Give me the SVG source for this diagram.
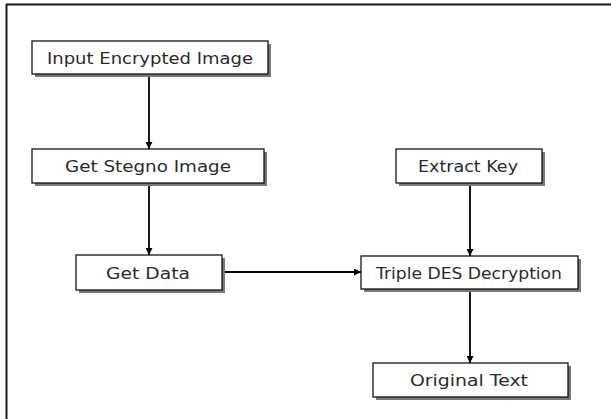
<svg xmlns="http://www.w3.org/2000/svg" width="611" height="419" viewBox="0 0 611 419">
  <style>
    .box { fill: #ffffff; stroke: #000000; stroke-width: 1.2; }
    .shadow { fill: #7a7a7a; }
    .lbl { font-family: "DejaVu Sans", "Liberation Sans", sans-serif; font-size: 16.5px; fill: #2a2a2a; text-anchor: middle; }
    .wire { stroke: #000000; stroke-width: 1.8; fill: none; marker-end: url(#arrow); }
  </style>
  <defs>
    <marker id="arrow" viewBox="0 0 10 10" refX="10" refY="5" markerWidth="7" markerHeight="7" markerUnits="userSpaceOnUse" orient="auto">
      <path d="M0,0 L10,5 L0,10 z" fill="#000000"/>
    </marker>
  </defs>
  <rect width="611" height="419" fill="#ffffff"/>

  <!-- outer frame: only top and left edges are visible -->
  <g id="frame">
    <line x1="6" y1="4.5" x2="611" y2="4.5" stroke="#1a1a1a" stroke-width="2"/>
    <line x1="6.5" y1="4" x2="6.5" y2="419" stroke="#1a1a1a" stroke-width="2"/>
  </g>

  <g id="connectors">
    <line class="wire" x1="149" y1="74" x2="149" y2="149"/>
    <line class="wire" x1="149" y1="183" x2="149" y2="255"/>
    <line class="wire" x1="222" y1="272" x2="361" y2="272"/>
    <line class="wire" x1="470" y1="183" x2="470" y2="256"/>
    <line class="wire" x1="470" y1="289" x2="470" y2="363"/>
  </g>

  <g id="input-encrypted-image">
    <rect class="shadow" x="35" y="44" width="236" height="33"/>
    <rect class="box" x="32" y="41" width="236" height="33"/>
    <text class="lbl" x="150" y="63.5" textLength="206" lengthAdjust="spacingAndGlyphs">Input Encrypted Image</text>
  </g>

  <g id="get-stegno-image">
    <rect class="shadow" x="35" y="152" width="232" height="34"/>
    <rect class="box" x="32" y="149" width="232" height="34"/>
    <text class="lbl" x="148" y="171.5" textLength="166" lengthAdjust="spacingAndGlyphs">Get Stegno Image</text>
  </g>

  <g id="get-data">
    <rect class="shadow" x="79" y="258" width="146" height="35"/>
    <rect class="box" x="76" y="255" width="146" height="35"/>
    <text class="lbl" x="148" y="278.5" textLength="84" lengthAdjust="spacingAndGlyphs">Get Data</text>
  </g>

  <g id="extract-key">
    <rect class="shadow" x="399" y="152" width="146" height="34"/>
    <rect class="box" x="396" y="149" width="146" height="34"/>
    <text class="lbl" x="468" y="171.5" textLength="100" lengthAdjust="spacingAndGlyphs">Extract Key</text>
  </g>

  <g id="triple-des-decryption">
    <rect class="shadow" x="364" y="259" width="217" height="33"/>
    <rect class="box" x="361" y="256" width="217" height="33"/>
    <text class="lbl" x="469" y="278.5" textLength="186" lengthAdjust="spacingAndGlyphs">Triple DES Decryption</text>
  </g>

  <g id="original-text">
    <rect class="shadow" x="376" y="366" width="195" height="34"/>
    <rect class="box" x="373" y="363" width="195" height="34"/>
    <text class="lbl" x="469" y="385.5" textLength="118" lengthAdjust="spacingAndGlyphs">Original Text</text>
  </g>
</svg>
